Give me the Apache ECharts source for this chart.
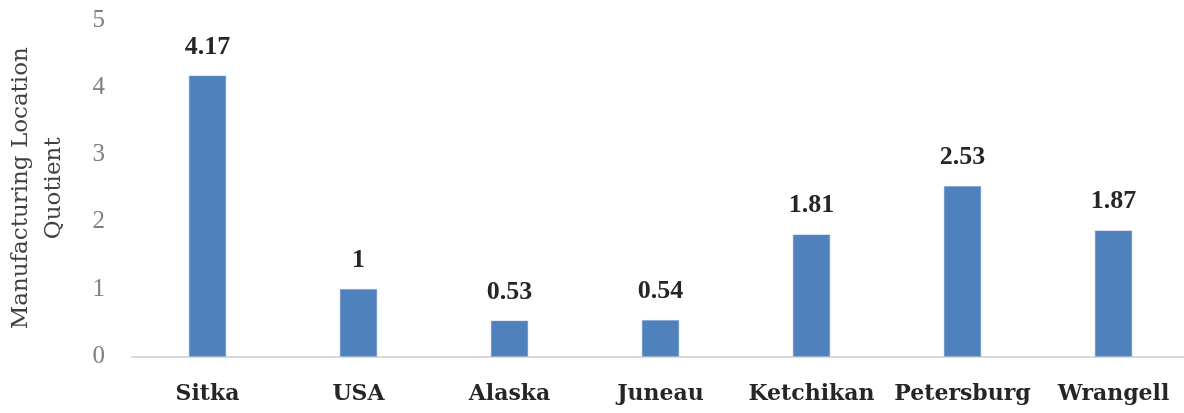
<!DOCTYPE html>
<html>
<head>
<meta charset="utf-8">
<script src="https://cdn.jsdelivr.net/npm/echarts@6/dist/echarts.min.js"></script>
<style>
  html, body { margin: 0; padding: 0; background: #ffffff; }
  #chart { width: 1184px; height: 413px; }
</style>
</head>
<body>
<div id="chart"></div>
<script>
// Manufacturing location quotient by place
const places = ['Sitka', 'USA', 'Alaska', 'Juneau', 'Ketchikan', 'Petersburg', 'Wrangell'];
const quotients = [4.17, 1, 0.53, 0.54, 1.81, 2.53, 1.87];
const yTicks = [0, 1, 2, 3, 4, 5];

const wordFont = '"DejaVu Serif", "Liberation Serif", serif';
const numFont = '"Liberation Serif", "DejaVu Serif", serif';

const chart = echarts.init(document.getElementById('chart'), null, { renderer: 'canvas' });

chart.setOption({
  animation: false,
  backgroundColor: '#ffffff',
  grid: {
    left: 132, top: 20, width: 1057, bottom: 56.5,
    containLabel: false,
    outerBoundsMode: 'none'
  },
  xAxis: {
    type: 'category',
    data: places,
    axisLine: { show: true, lineStyle: { color: '#d9d9d9', width: 2 } },
    axisTick: { show: false },
    axisLabel: {
      interval: 0,
      margin: 27,
      color: '#262626',
      fontFamily: wordFont,
      fontWeight: 'bold',
      fontSize: 22
    }
  },
  yAxis: {
    type: 'value',
    min: yTicks[0],
    max: yTicks[yTicks.length - 1],
    interval: 1,
    name: 'Manufacturing Location\nQuotient',
    nameLocation: 'middle',
    nameRotate: 90,
    nameGap: 61,
    nameTextStyle: {
      color: '#404040',
      fontFamily: wordFont,
      fontSize: 23,
      lineHeight: 33,
      align: 'center'
    },
    axisLine: { show: false },
    axisTick: { show: false },
    splitLine: { show: false },
    axisLabel: {
      margin: 27,
      color: '#808080',
      fontFamily: numFont,
      fontSize: 25
    }
  },
  series: [{
    type: 'bar',
    data: quotients,
    barWidth: 37,
    itemStyle: { color: '#4f81bd', borderColor: '#6f97cb', borderWidth: 0.5 },
    label: {
      show: true,
      position: 'top',
      distance: 16,
      color: '#262626',
      fontFamily: numFont,
      fontWeight: 'bold',
      fontSize: 26
    }
  }]
});
</script>
</body>
</html>
